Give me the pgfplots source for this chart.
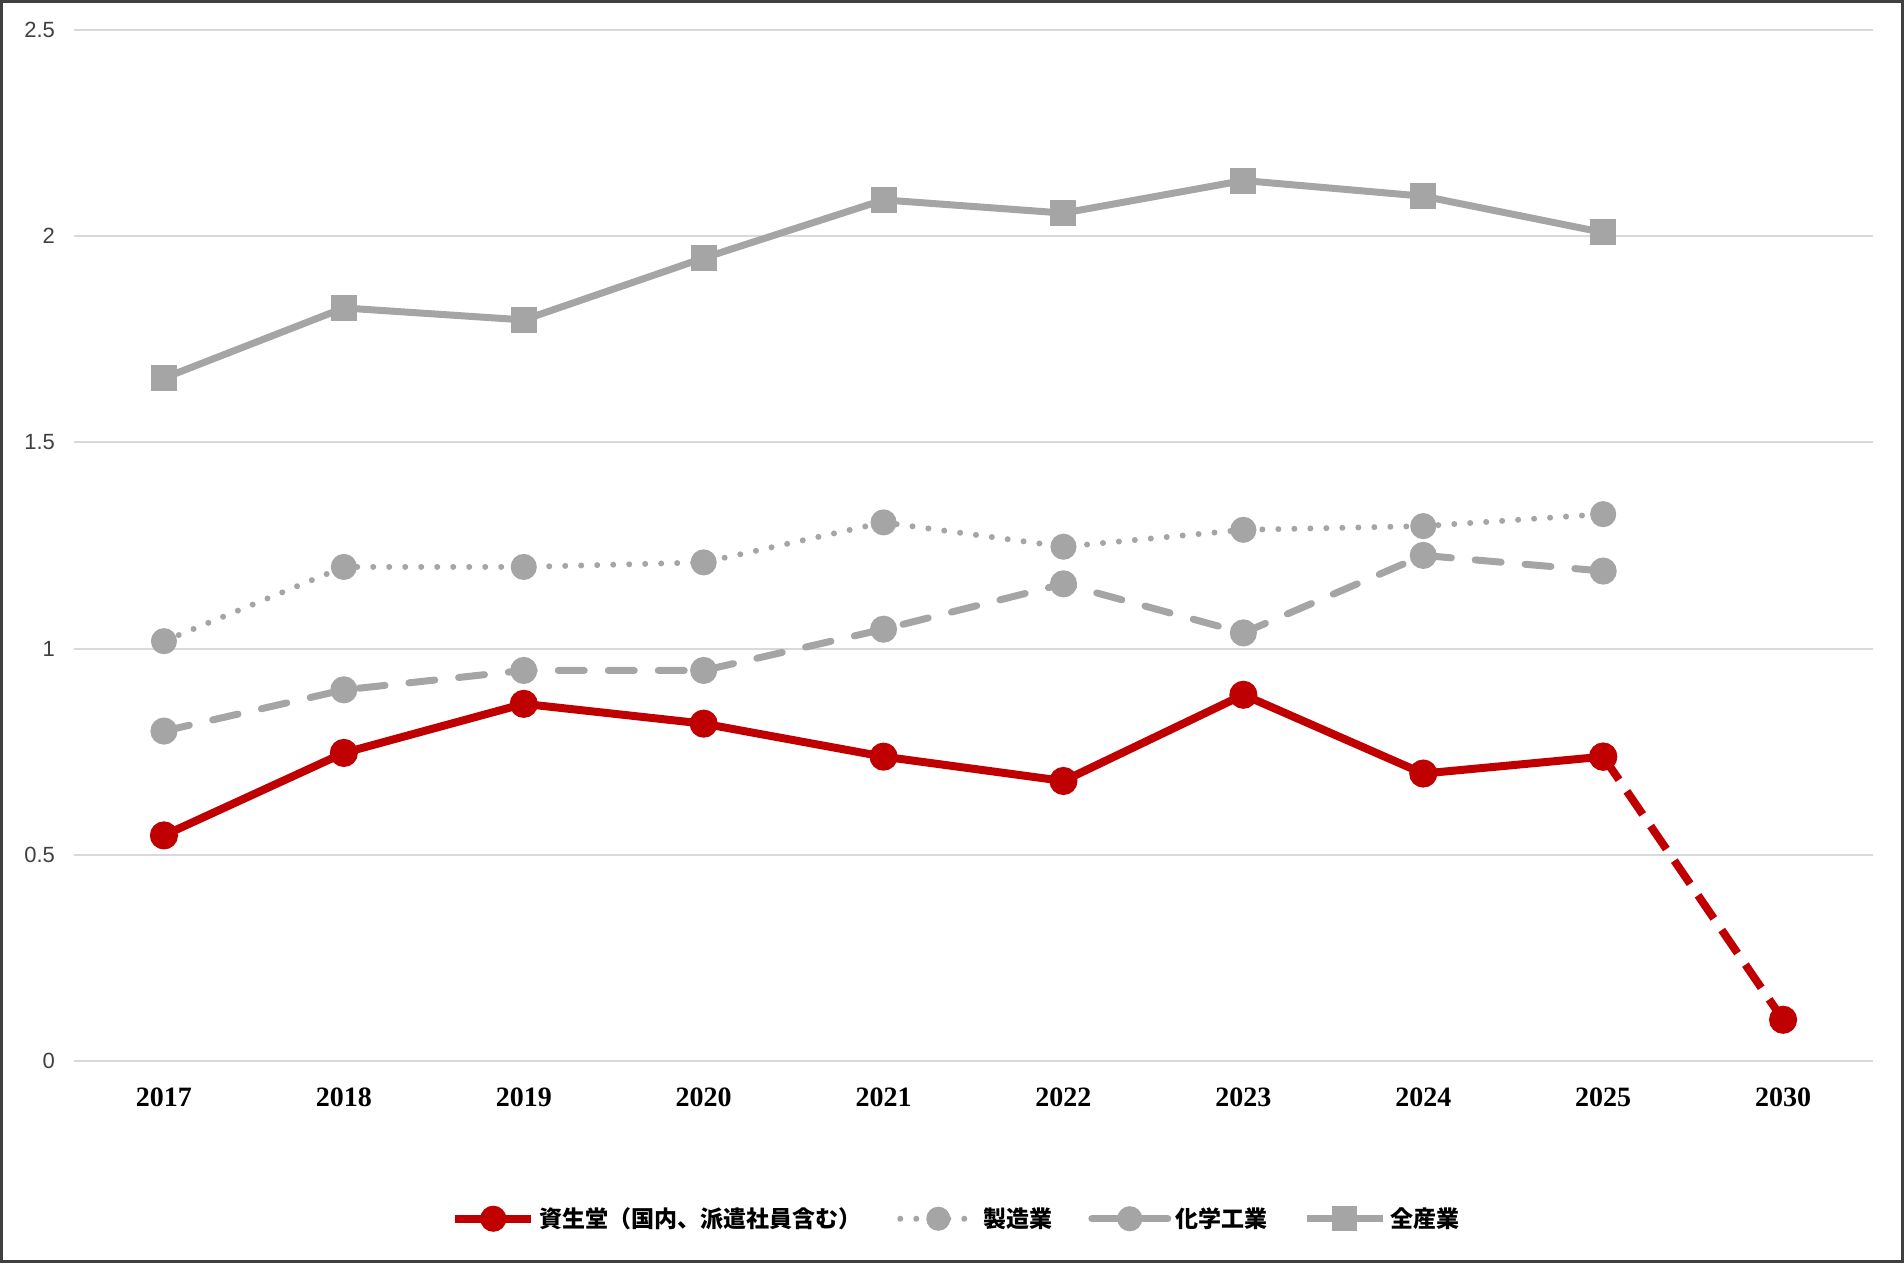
\documentclass[border=0pt]{standalone}
\usepackage{pgfplots}
\pgfplotsset{compat=1.18}
\usepackage{fontspec}
\setmainfont{Liberation Serif}
\newfontfamily\cjk{Noto Sans CJK JP}
\newfontfamily\ysans{Liberation Sans}
\definecolor{cred}{HTML}{C00000}
\definecolor{cgray}{HTML}{A5A5A5}
\definecolor{cgrid}{HTML}{D9D9D9}
\begin{document}
\begin{tikzpicture}
\useasboundingbox (0,0) rectangle (952pt,631.5pt);
\draw[color=black!75, line width=1.5pt] (0.75pt,0.75pt) rectangle (951.25pt,630.75pt);
\begin{axis}[
  at={(37pt,101pt)}, anchor=south west,
  width=899.5pt, height=515.5pt, scale only axis,
  xmin=-0.5, xmax=9.5, ymin=0, ymax=2.5,
  axis line style={draw=none},
  xtick={0,...,9},
  xticklabels={2017,2018,2019,2020,2021,2022,2023,2024,2025,2030},
  ytick={0,0.5,1,1.5,2,2.5},
  yticklabels={0,0.5,1,1.5,2,2.5},
  major tick length=0pt,
  ymajorgrids, grid style={cgrid, line width=1pt},
  xticklabel style={font=\fontsize{14}{16}\selectfont\bfseries, text=black, yshift=-10pt},
  yticklabel style={font=\ysans\fontsize{11}{13}\selectfont, text=black!75, xshift=-6pt},
  legend columns=4,
  legend style={at={(0.491,-0.153)}, anchor=center, draw=none, fill=none,
    font=\cjk\bfseries\fontsize{11.5}{13}\selectfont,
    /tikz/every odd column/.append style={column sep=0pt},
    /tikz/every even column/.append style={column sep=16pt}},
  legend image code/.code={
    \draw[#1] (0pt,0pt) -- (38pt,0pt);
    \draw[#1, mark size=4.5pt, mark repeat=1, only marks] plot coordinates {(19pt,0pt)};
  },
  clip=false,
]
\addplot[cred, line width=4pt, mark=*, mark size=5pt, mark options={solid, fill=cred, draw=cred}]
  coordinates {(0,0.547)(1,0.747)(2,0.866)(3,0.818)(4,0.738)(5,0.679)(6,0.888)(7,0.697)(8,0.738)};
\addlegendentry{資生堂（国内、派遣社員含む）}
\addplot[cgray, line width=3pt, line cap=round, dash pattern=on 0pt off 8pt, mark=*, mark size=5pt, mark options={solid, fill=cgray, draw=cgray}]
  coordinates {(0,1.018)(1,1.198)(2,1.198)(3,1.209)(4,1.306)(5,1.247)(6,1.288)(7,1.297)(8,1.326)};
\addlegendentry{製造業}
\addplot[cgray, line width=3.5pt, line cap=round, dash pattern=on 13pt off 12pt, mark=*, mark size=5pt, mark options={solid, fill=cgray, draw=cgray}]
  coordinates {(0,0.800)(1,0.900)(2,0.947)(3,0.947)(4,1.047)(5,1.157)(6,1.038)(7,1.226)(8,1.188)};
\addlegendentry{化学工業}
\addplot[cgray, line width=3.5pt, mark=square*, mark size=4.75pt, mark options={solid, fill=cgray, draw=cgray}]
  coordinates {(0,1.656)(1,1.826)(2,1.797)(3,1.947)(4,2.088)(5,2.056)(6,2.135)(7,2.097)(8,2.009)};
\addlegendentry{全産業}
\addplot[cred, line width=4pt, dash pattern=on 14pt off 7pt, mark=*, mark size=5pt, mark options={solid, fill=cred, draw=cred}, forget plot]
  coordinates {(8,0.738)(9,0.100)};
\end{axis}
\end{tikzpicture}
\end{document}
